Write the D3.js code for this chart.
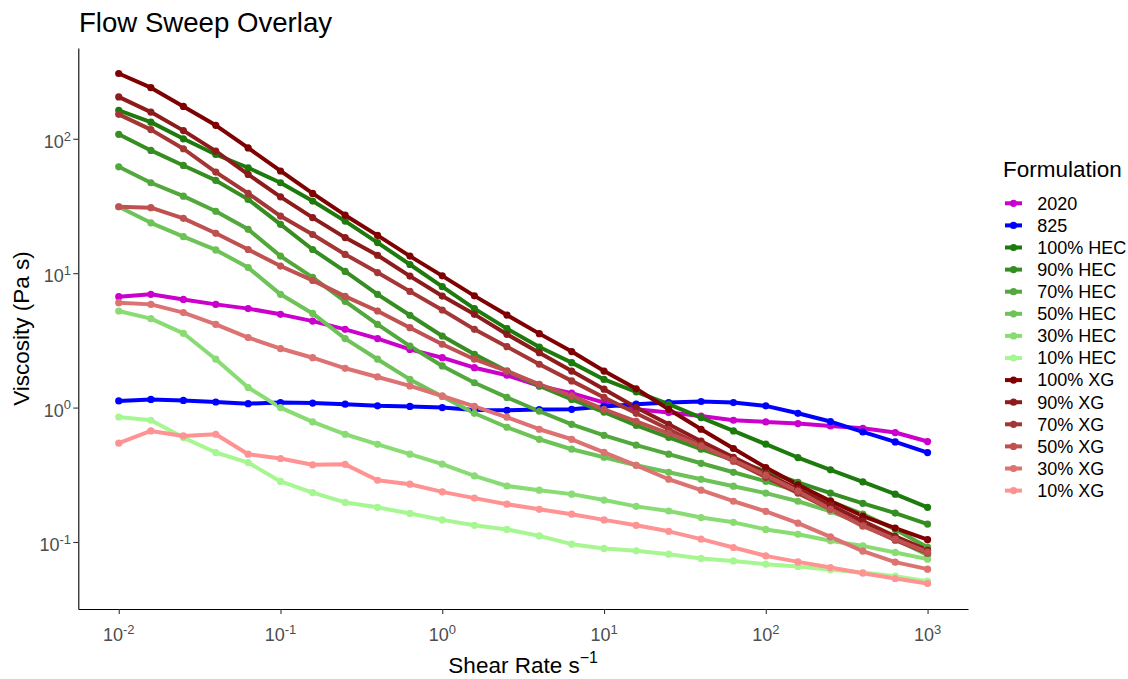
<!DOCTYPE html>
<html><head><meta charset="utf-8">
<script src="https://cdn.jsdelivr.net/npm/d3@7"></script>
<style>
body{margin:0;background:#fff}
svg{display:block}
text{font-family:"Liberation Sans",Arial,Helvetica,sans-serif}
</style>
</head><body>
<svg id="chart" width="1128" height="679"></svg>
<script>
// ---- data ----
const shearRate = [0.01,0.0158,0.0251,0.0398,0.0631,0.1,0.158,0.251,0.398,0.631,1,1.58,2.51,3.98,6.31,10,15.8,25.1,39.8,63.1,100,158,251,398,631,1000];
const formulations = ["2020","825","100% HEC","90% HEC","70% HEC","50% HEC","30% HEC","10% HEC","100% XG","90% XG","70% XG","50% XG","30% XG","10% XG"];
const seriesColors = ["#CC00CC","#0000FF","#1D7A0C","#368E22","#52A83C","#6DC258","#89DC74","#A6F791","#7F0000","#8E1B1B","#A53636","#BF5151","#DC7272","#FF9292"];

const v2020   = [6.69,6.96,6.38,5.86,5.45,4.94,4.40,3.82,3.26,2.71,2.35,1.98,1.74,1.45,1.28,1.09,0.97,0.918,0.866,0.805,0.782,0.760,0.730,0.702,0.652,0.559];
const v825    = [1.12,1.15,1.13,1.10,1.07,1.09,1.08,1.06,1.03,1.02,1.00,0.96,0.955,0.966,0.971,1.02,1.06,1.09,1.11,1.09,1.03,0.907,0.787,0.659,0.555,0.463];
const hec100  = [163,133,100,76.4,60.9,47.1,34.4,24.4,16.9,11.6,7.94,5.45,3.87,2.82,2.16,1.62,1.31,1.06,0.843,0.670,0.534,0.425,0.344,0.280,0.227,0.181];
const hec90   = [108,81.9,63.3,49.0,35.4,23.1,15.0,10.3,6.96,4.86,3.41,2.49,1.87,1.45,1.15,0.923,0.738,0.601,0.490,0.406,0.336,0.278,0.231,0.194,0.164,0.136];
const hec70   = [61.9,47.1,37.4,28.9,21.2,13.4,9.30,6.17,4.16,2.87,2.04,1.53,1.19,0.939,0.751,0.622,0.525,0.450,0.385,0.330,0.283,0.239,0.201,0.161,0.124,0.0915];
const hec50   = [31.2,23.7,18.7,14.9,11.0,6.96,5.02,3.26,2.29,1.62,1.21,0.907,0.714,0.581,0.490,0.427,0.372,0.330,0.293,0.260,0.231,0.201,0.169,0.136,0.105,0.0798];
const hec30   = [5.23,4.59,3.57,2.29,1.41,1.00,0.782,0.633,0.533,0.450,0.379,0.310,0.261,0.243,0.227,0.205,0.184,0.170,0.152,0.140,0.124,0.114,0.102,0.0935,0.0836,0.0745];
const hec10   = [0.851,0.805,0.598,0.463,0.390,0.282,0.233,0.197,0.181,0.163,0.146,0.133,0.124,0.111,0.0963,0.0895,0.0859,0.0811,0.0754,0.0723,0.0684,0.0658,0.0621,0.0593,0.0557,0.0511];
const xg100   = [306,240,174,126,85.5,57.6,39.2,27.0,19.1,13.4,9.55,6.78,4.88,3.55,2.61,1.87,1.38,0.971,0.690,0.496,0.358,0.266,0.202,0.156,0.127,0.104];
const xg90    = [205,158,115,80.9,54.3,37.0,25.9,18.4,13.6,9.51,6.76,4.94,3.51,2.56,1.87,1.37,1.00,0.751,0.562,0.427,0.325,0.247,0.188,0.143,0.110,0.0869];
const xg70    = [152,117,84.3,56.5,39.2,26.6,19.4,13.8,10.1,7.32,5.32,3.82,2.84,2.10,1.58,1.19,0.907,0.690,0.525,0.399,0.303,0.231,0.175,0.133,0.103,0.0826];
const xg50    = [31.2,30.7,25.6,19.8,15.0,11.3,8.84,6.72,5.23,3.93,2.96,2.29,1.87,1.49,1.22,0.971,0.791,0.644,0.516,0.406,0.314,0.239,0.175,0.131,0.105,0.0840];
const xg30    = [6.03,5.86,5.09,4.16,3.32,2.75,2.35,1.96,1.69,1.45,1.22,1.02,0.847,0.690,0.581,0.465,0.372,0.293,0.243,0.201,0.169,0.138,0.109,0.0855,0.0708,0.0628];
const xg10    = [0.543,0.670,0.615,0.633,0.450,0.418,0.375,0.378,0.288,0.269,0.236,0.212,0.191,0.175,0.161,0.146,0.133,0.120,0.105,0.0910,0.0788,0.0711,0.0646,0.0586,0.0535,0.0491];

const viscosity = [v2020,v825,hec100,hec90,hec70,hec50,hec30,hec10,xg100,xg90,xg70,xg50,xg30,xg10];
const xTickValues = [1e-2,1e-1,1e0,1e1,1e2,1e3];
const yTickValues = [1e-1,1e0,1e1,1e2];

// ---- layout ----
const svg = d3.select("#chart");
const panel = {left:78.3, right:968, top:48, bottom:609};

const lx0 = Math.log10(d3.min(shearRate)), lx1 = Math.log10(d3.max(shearRate));
const ex = (lx1-lx0)*0.05;
const x = d3.scaleLog().domain([10**(lx0-ex), 10**(lx1+ex)]).range([panel.left, panel.right]);

const allV = viscosity.flat();
const ly0 = Math.log10(d3.min(allV)), ly1 = Math.log10(d3.max(allV));
const ey = (ly1-ly0)*0.05;
const y = d3.scaleLog().domain([10**(ly0-ey), 10**(ly1+ey)]).range([panel.bottom, panel.top]);

const series = formulations.map((name,i)=>({name, color:seriesColors[i],
  pts: shearRate.map((s,j)=>({x:s, y:viscosity[i][j]}))}));

// lines
const line = d3.line().x(d=>x(d.x)).y(d=>y(d.y));
svg.append("g").selectAll("path").data(series).join("path")
  .attr("d", d=>line(d.pts)).attr("fill","none")
  .attr("stroke", d=>d.color).attr("stroke-width",4)
  .attr("stroke-linejoin","round").attr("stroke-linecap","butt");
// points
const pg = svg.append("g");
series.forEach(s=>{
  pg.append("g").selectAll("circle").data(s.pts).join("circle")
    .attr("cx",d=>x(d.x)).attr("cy",d=>y(d.y)).attr("r",3.6).attr("fill",s.color);
});

// axes
const xAxis = svg.append("g").attr("transform",`translate(0,${panel.bottom})`)
  .call(d3.axisBottom(x).tickValues(xTickValues).tickSize(5).tickSizeOuter(0).tickFormat(""));
const yAxis = svg.append("g").attr("transform",`translate(${panel.left},0)`)
  .call(d3.axisLeft(y).tickValues(yTickValues).tickSize(5).tickSizeOuter(0).tickFormat(""));
[xAxis,yAxis].forEach(g=>{
  g.select(".domain").attr("stroke","#000").attr("stroke-width",1.1);
  g.selectAll(".tick line").attr("stroke","#333").attr("stroke-width",1.1);
});

function powLabel(sel, v){
  const e = Math.round(Math.log10(v));
  sel.append("tspan").text("10");
  sel.append("tspan").attr("dy",-7.2).attr("font-size",13).text(String(e));
}
xTickValues.forEach(v=>{
  const t = svg.append("text").attr("x",x(v)).attr("y",640.7)
    .attr("text-anchor","middle").attr("font-size",18).attr("fill","#4D4D4D");
  powLabel(t,v);
});
yTickValues.forEach(v=>{
  const t = svg.append("text").attr("x",71).attr("y",y(v)+9)
    .attr("text-anchor","end").attr("font-size",18).attr("fill","#4D4D4D");
  powLabel(t,v);
});

// titles
svg.append("text").attr("x",79).attr("y",31.5).attr("font-size",27.6).attr("fill","#000").text("Flow Sweep Overlay");
const xt = svg.append("text").attr("x",(panel.left+panel.right)/2).attr("y",673)
  .attr("text-anchor","middle").attr("font-size",22.5).attr("fill","#000");
xt.append("tspan").text("Shear Rate s");
xt.append("tspan").attr("dy",-10).attr("font-size",16).text("\u22121");
svg.append("text").attr("transform",`translate(29,${(panel.top+panel.bottom)/2}) rotate(-90)`)
  .attr("text-anchor","middle").attr("font-size",22.5).attr("fill","#000").text("Viscosity (Pa s)");

// legend
const lg = svg.append("g");
lg.append("text").attr("x",1003).attr("y",176.7).attr("font-size",22.5).attr("fill","#000").text("Formulation");
series.forEach((s,k)=>{
  const cy = 203.3 + k*22.1;
  lg.append("line").attr("x1",1005).attr("x2",1022).attr("y1",cy).attr("y2",cy)
    .attr("stroke",s.color).attr("stroke-width",4);
  lg.append("circle").attr("cx",1013.5).attr("cy",cy).attr("r",3.6).attr("fill",s.color);
  lg.append("text").attr("x",1037.3).attr("y",cy).attr("dy","0.35em").attr("font-size",18).attr("fill","#000").text(s.name);
});
</script>
</body></html>
